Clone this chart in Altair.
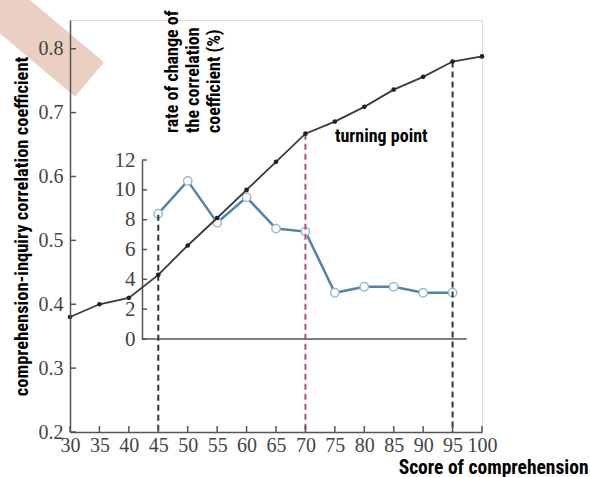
import altair as alt
import pandas as pd

# ---- data ----
scores = [30, 35, 40, 45, 50, 55, 60, 65, 70, 75, 80, 85, 90, 95, 100]
corr = [0.380, 0.400, 0.410, 0.446, 0.492, 0.535, 0.579, 0.623, 0.667,
        0.686, 0.709, 0.736, 0.756, 0.780, 0.788]
rate_scores = [45, 50, 55, 60, 65, 70, 75, 80, 85, 90, 95]
rate = [8.4, 10.6, 7.8, 9.5, 7.4, 7.2, 3.1, 3.5, 3.5, 3.1, 3.1]
y_ticks = [0.2, 0.3, 0.4, 0.5, 0.6, 0.7, 0.8]
inset_ticks = [0, 2, 4, 6, 8, 10, 12]
guide_x = [45, 70, 95]
guide_top = [0.54, 0.667, 0.78]
guide_kind = ["black", "red", "black"]
inset_axis_x = [42.2, 97.4]

W, H = 412, 412
SERIF = "Liberation Serif"
NARROW = "Liberation Sans Narrow, Roboto Condensed, Arial Narrow, sans-serif"
AX = "#555555"

main_df = pd.DataFrame({"score": scores, "corr": corr})
rate_df = pd.DataFrame({"score": rate_scores, "rate": rate})
guide_df = pd.DataFrame({"score": guide_x, "top": guide_top, "kind": guide_kind,
                         "bottom": [0.2] * 3})
ytick_df = pd.DataFrame({"v": y_ticks})
xtick_df = pd.DataFrame({"score": scores})
itick_df = pd.DataFrame({"v": inset_ticks})
iaxis_df = pd.DataFrame({"x1": [inset_axis_x[0]], "x2": [inset_axis_x[1]], "v": [0]})

xscale = alt.Scale(domain=[30, 100], nice=False, zero=False)
yscale = alt.Scale(domain=[0.2, 0.845], nice=False, zero=False)
iscale = alt.Scale(domain=[0, 12], range=[319, 140], nice=False, zero=False)

x_axis = alt.Axis(values=scores, format="d", ticks=False, grid=False,
                  domainColor=AX, domainWidth=1.5, labelFont=SERIF,
                  labelFontSize=20, labelColor="#444444", labelPadding=3,
                  labelFlush=False, labelOverlap=False, labelBound=False,
                  title="Score of comprehension", titleFont=NARROW,
                  titleFontSize=19.5, titleFontWeight="bold", titleColor="#000000",
                  titleX=518, titleY=41, titleAlign="right",
                  titleBaseline="alphabetic")
y_axis = alt.Axis(values=y_ticks, format=".1f", ticks=False, grid=False,
                  orient="left", domainColor=AX, domainWidth=1.5, zindex=1,
                  labelFont=SERIF, labelFontSize=20, labelColor="#444444",
                  labelPadding=7, labelOverlap=False, labelBound=False,
                  title="comprehension-inquiry correlation coefficient",
                  titleFont=NARROW, titleFontSize=18.5, titleFontWeight="bold",
                  titleColor="#000000", titleX=-49, titleY=206, titleAngle=270,
                  titleAlign="center", titleBaseline="middle")
i_axis = alt.Axis(values=inset_ticks, format="d", ticks=False, grid=False,
                  orient="left", offset=-72, domainColor=AX, domainWidth=1.5,
                  labelFont=SERIF, labelFontSize=21, labelColor="#444444",
                  labelPadding=7, labelOverlap=False, labelBound=False, title=None)

# decorative ribbon in the corner
band = alt.Chart(pd.DataFrame({"a": [0]})).mark_rule(
    color="#dcb09a", opacity=0.6, strokeWidth=45, strokeCap="butt"
).encode(x=alt.value(-95), y=alt.value(-37), x2=alt.value(19.5), y2=alt.value(59.5))

main_line = alt.Chart(main_df).mark_line(color="#3a3a3a", strokeWidth=1.8).encode(
    x=alt.X("score:Q", scale=xscale, axis=x_axis),
    y=alt.Y("corr:Q", scale=yscale, axis=y_axis),
)
main_pts = alt.Chart(main_df).mark_point(filled=True, color="#222222", size=22,
                                          opacity=1).encode(
    x=alt.X("score:Q", scale=xscale, axis=x_axis),
    y=alt.Y("corr:Q", scale=yscale, axis=y_axis),
)
guides = alt.Chart(guide_df).mark_rule(strokeWidth=2, strokeDash=[6, 4]).encode(
    x=alt.X("score:Q", scale=xscale, axis=x_axis),
    y=alt.Y("top:Q", scale=yscale, axis=y_axis),
    y2="bottom:Q",
    color=alt.Color("kind:N", scale=alt.Scale(domain=["black", "red"],
                                              range=["#333333", "#b5506a"]),
                    legend=None),
)
yticks = alt.Chart(ytick_df).mark_rule(color=AX, strokeWidth=1.5).encode(
    y=alt.Y("v:Q", scale=yscale, axis=y_axis), x=alt.value(0), x2=alt.value(6))
xticks = alt.Chart(xtick_df).mark_rule(color=AX, strokeWidth=1.5).encode(
    x=alt.X("score:Q", scale=xscale, axis=x_axis), y=alt.value(H), y2=alt.value(H - 6))
turning = alt.Chart(pd.DataFrame({"t": ["turning point"]})).mark_text(
    font=NARROW, fontSize=18, fontWeight="bold", color="#000000",
    align="left", baseline="middle"
).encode(text="t:N", x=alt.value(265), y=alt.value(117))
inset_title = alt.Chart(pd.DataFrame({"a": [0]})).mark_text(
    font=NARROW, fontSize=18, fontWeight="bold", color="#000000", angle=270,
    align="left", baseline="top", lineHeight=21,
    text=["rate of change of", "the correlation", "coefficient (%)"]
).encode(x=alt.value(94), y=alt.value(113))

main_layer = alt.layer(main_line, band, guides, main_pts, yticks, xticks,
                       turning, inset_title)

i_line = alt.Chart(rate_df).mark_line(color="#5084ac", strokeWidth=2.5).encode(
    x=alt.X("score:Q", scale=xscale, axis=x_axis),
    y=alt.Y("rate:Q", scale=iscale, axis=i_axis),
)
i_pts = alt.Chart(rate_df).mark_point(filled=True, fill="#ffffff", stroke="#9bbad2",
                                       strokeWidth=1.5, size=70, opacity=1).encode(
    x=alt.X("score:Q", scale=xscale, axis=x_axis),
    y=alt.Y("rate:Q", scale=iscale, axis=i_axis),
)
i_xaxis = alt.Chart(iaxis_df).mark_rule(color=AX, strokeWidth=1.5).encode(
    x=alt.X("x1:Q", scale=xscale, axis=x_axis), x2="x2:Q",
    y=alt.Y("v:Q", scale=iscale, axis=i_axis),
)
i_ticks = alt.Chart(itick_df).mark_rule(color=AX, strokeWidth=1.5).encode(
    y=alt.Y("v:Q", scale=iscale, axis=i_axis), x=alt.value(72), x2=alt.value(77))

inset_layer = alt.layer(i_xaxis, i_ticks, i_line, i_pts)

chart = alt.layer(inset_layer, main_layer).resolve_scale(y="independent").properties(
    width=W, height=H,
    autosize=alt.AutoSizeParams(type="none"),
    padding={"left": 70, "top": 20, "right": 108, "bottom": 45},
).configure_view(strokeWidth=0).configure(background="#ffffff")

chart.save("out.html", embed_options={"renderer": "svg", "actions": False})
